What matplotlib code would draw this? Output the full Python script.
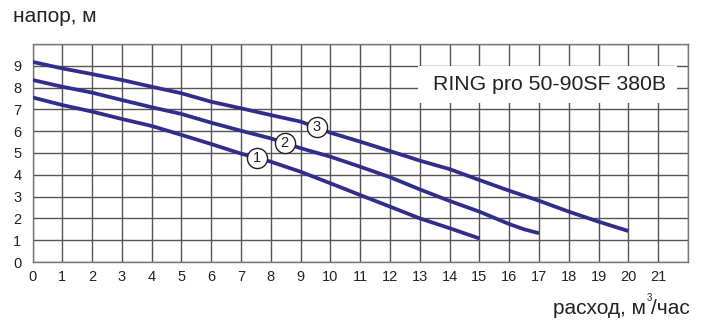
import matplotlib
matplotlib.use("Agg")
import matplotlib.pyplot as plt
from matplotlib.patches import Rectangle

# Data
x1 = [0, 1, 2, 3, 4, 5, 6, 7, 8, 9, 10, 11, 12, 13, 14, 15]
y1 = [7.55, 7.2, 6.9, 6.56, 6.24, 5.83, 5.41, 4.97, 4.6, 4.14, 3.61, 3.07, 2.54, 2.0, 1.55, 1.08]
x2 = [0, 1, 2, 3, 4, 5, 6, 7, 8, 9, 10, 11, 12, 13, 14, 15, 16, 16.5, 17]
y2 = [8.35, 8.04, 7.77, 7.43, 7.1, 6.79, 6.39, 6.02, 5.67, 5.22, 4.83, 4.37, 3.89, 3.33, 2.8, 2.31, 1.74, 1.5, 1.32]
x3 = [0, 1, 2, 3, 4, 5, 6, 7, 8, 9, 10, 11, 12, 13, 14, 15, 16, 17, 18, 19, 20]
y3 = [9.18, 8.88, 8.62, 8.35, 8.04, 7.74, 7.35, 7.05, 6.74, 6.44, 5.93, 5.52, 5.09, 4.65, 4.26, 3.76, 3.27, 2.81, 2.31, 1.85, 1.42]
curves = [(x1, y1), (x2, y2), (x3, y3)]
curve_labels = ["1", "2", "3"]
label_x = [7.52, 8.46, 9.54]
label_y = [4.77, 5.46, 6.19]
x_ticks = list(range(0, 22))
y_ticks = list(range(0, 10))
title_box = "RING pro 50-90SF 380B"
y_label = "напор, м"
x_label_a = "расход, м"
x_label_sup = "3"
x_label_b = "/час"

plt.rcParams['font.family'] = ['Liberation Sans', 'DejaVu Sans']

W, H = 707, 327
fig = plt.figure(figsize=(7.07, 3.27), dpi=100)
ax = fig.add_axes([32.5/W, 1-262/H, (688-32.5)/W, (262-44)/H])
ax.set_xlim(0, 22)
ax.set_ylim(0, 10)

grid_c = '#555555'
for xv in range(0, 23):
    ax.axvline(xv, color=grid_c, lw=1.0, zorder=1)
for yv in range(0, 11):
    ax.axhline(yv, color=grid_c, lw=1.0, zorder=1)
for s in ax.spines.values():
    s.set_color('#777777')
    s.set_linewidth(1.0)

line_c = '#302e8a'
for (xs, ys) in curves:
    ax.plot(xs, ys, color=line_c, lw=2.7, zorder=3, solid_capstyle='butt')

for lab, lx, ly in zip(curve_labels, label_x, label_y):
    ax.scatter([lx], [ly], s=210, facecolor='white', edgecolor='#222222', linewidth=1.0, zorder=4)
    ax.text(lx, ly, lab, ha='center', va='center', fontsize=10.5, color='#222222', zorder=5)

ax.set_xticks(x_ticks)
ax.set_yticks(y_ticks)
ax.tick_params(length=0, labelsize=10.5, colors='#222222', pad=6)
ax.tick_params(axis='y', pad=8)

# white title box
fig.patches.append(Rectangle((418/W, 1-103/H), (677-418)/W, (103-66)/H,
                             transform=fig.transFigure, facecolor='white',
                             edgecolor='none', zorder=5))
fig.text(549.5/W, 1-85/H, title_box, ha='center', va='center',
         fontsize=15.3, color='#222222', zorder=6)

fig.text(13/W, 1-16/H, y_label, ha='left', va='center', fontsize=15, color='#222222')

# x-axis label with a small superscript
tb = fig.text(1-17/W, 1-308/H, x_label_b, ha='right', va='center', fontsize=15, color='#222222')
fig.canvas.draw()
r = fig.canvas.get_renderer()
bb = tb.get_window_extent(renderer=r)
ts = fig.text((bb.x0 + 1.0)/W, 1-298/H, x_label_sup, ha='right', va='center', fontsize=7, color='#222222')
bs = ts.get_window_extent(renderer=r)
fig.text((bs.x0 - 0.5)/W, 1-308/H, x_label_a, ha='right', va='center', fontsize=15, color='#222222')

fig.savefig('out.png', dpi=100)
